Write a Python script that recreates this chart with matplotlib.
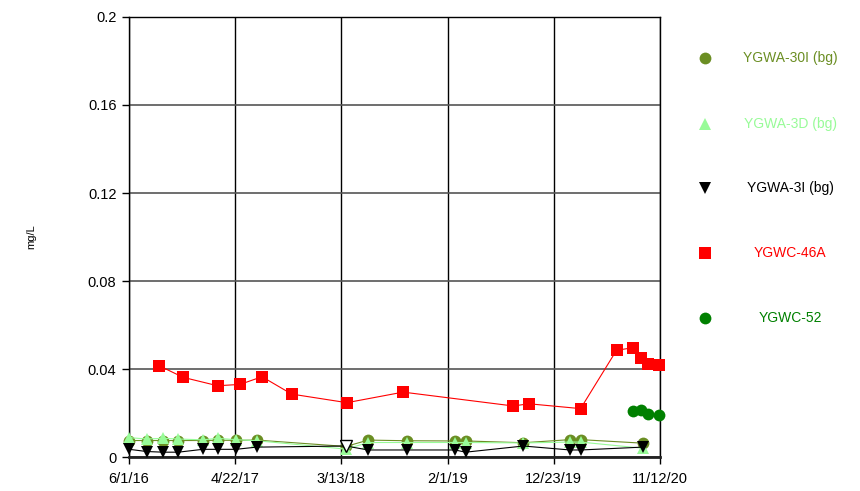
import matplotlib
matplotlib.use("Agg")
import matplotlib.pyplot as plt
import pandas as pd
from matplotlib.lines import Line2D

plt.rcParams['font.family'] = ['Liberation Sans', 'DejaVu Sans']

# sampling dates shared by the three background wells
bg_dates = [
    "2016-06-02", "2016-07-25", "2016-09-14", "2016-10-30", "2017-01-13",
    "2017-02-27", "2017-04-24", "2017-06-27", "2018-03-27", "2018-06-03",
    "2018-09-29", "2019-02-24", "2019-03-28", "2019-09-21", "2020-02-11",
    "2020-03-14", "2020-09-20",
]
ygwa_30i = [0.0075, 0.0075, 0.0075, 0.0075, 0.0075, 0.0076, 0.0076, 0.0077, 0.0048,
            0.0077, 0.0074, 0.0073, 0.0073, 0.0065, 0.0079, 0.0079, 0.0063]
ygwa_3d = [0.0088, 0.0082, 0.0085, 0.0082, 0.0078, 0.0085, 0.0079, 0.0074, 0.0036,
           0.0066, 0.0066, 0.0066, 0.0066, 0.0064, 0.0068, 0.0068, 0.0040]
ygwa_3i = [0.0035, 0.0025, 0.0022, 0.0022, 0.0035, 0.0035, 0.0035, 0.0045, 0.0050,
           0.0032, 0.0032, 0.0032, 0.0022, 0.0050, 0.0032, 0.0032, 0.0045]
ygwa_3i_hollow = ["2018-03-27"]

ygwc_46a_dates = [
    "2016-09-01", "2016-11-14", "2017-02-27", "2017-05-07", "2017-07-13",
    "2017-10-12", "2018-03-30", "2018-09-18", "2019-08-21", "2019-10-08",
    "2020-03-14", "2020-07-02", "2020-08-22", "2020-09-16", "2020-10-05",
    "2020-11-10",
]
ygwc_46a = [0.0415, 0.0362, 0.0324, 0.0330, 0.0365, 0.0286, 0.0247, 0.0295, 0.0232,
            0.0242, 0.0220, 0.0485, 0.0497, 0.0449, 0.0421, 0.0418]

ygwc_52_dates = ["2020-08-22", "2020-09-16", "2020-10-05", "2020-11-10"]
ygwc_52 = [0.0209, 0.0212, 0.0194, 0.0191]

x_ticks = ["6/1/16", "4/22/17", "3/13/18", "2/1/19", "12/23/19", "11/12/20"]
y_ticks = [0, 0.04, 0.08, 0.12, 0.16, 0.2]
y_tick_labels = ["0", "0.04", "0.08", "0.12", "0.16", "0.2"]

series = [
    ("YGWA-30I (bg)", bg_dates, ygwa_30i, "o", "#6b8e23"),
    ("YGWA-3D (bg)", bg_dates, ygwa_3d, "^", "#98fb98"),
    ("YGWA-3I (bg)", bg_dates, ygwa_3i, "v", "black"),
    ("YGWC-46A", ygwc_46a_dates, ygwc_46a, "s", "red"),
    ("YGWC-52", ygwc_52_dates, ygwc_52, "o", "#008000"),
]


def plot_chart():
    fig = plt.figure(figsize=(8.6, 4.91), dpi=100)
    ax = fig.add_axes([0.15, 0.0692, 0.6174, 0.8962])

    for name, dates, values, marker, color in series:
        ax.plot(pd.to_datetime(dates), values, color=color, lw=0.8,
                marker=marker, markersize=8.5, markeredgewidth=0,
                zorder=3, clip_on=False)

    hollow = [ygwa_3i[bg_dates.index(d)] for d in ygwa_3i_hollow]
    ax.plot(pd.to_datetime(ygwa_3i_hollow), hollow, linestyle="none", marker="v",
            markersize=9, markerfacecolor="white", markeredgecolor="black",
            markeredgewidth=1, zorder=4)

    tick_dates = pd.to_datetime(x_ticks, format="%m/%d/%y")
    ax.set_xlim(tick_dates[0], tick_dates[-1])
    ax.set_xticks(tick_dates)
    ax.set_xticklabels(x_ticks, fontsize=10.5)
    ax.set_ylim(0, 0.2)
    ax.set_yticks(y_ticks)
    ax.set_yticklabels(y_tick_labels, fontsize=10.5)
    ax.set_ylabel("mg/L", fontsize=8, labelpad=37)

    ax.grid(axis="x", color="black", lw=1)
    ax.grid(axis="y", color="#555555", lw=1.2)
    ax.set_axisbelow(True)

    ax.tick_params(axis="x", direction="out", length=5, width=1, pad=6)
    ax.tick_params(axis="y", direction="out", length=5, width=1, pad=4)
    for side in ["top", "right", "left"]:
        ax.spines[side].set_linewidth(1)
        ax.spines[side].set_color("black")
    ax.spines["bottom"].set_linewidth(2)
    ax.spines["bottom"].set_color("#222222")

    # legend drawn by hand: marker on the left, coloured label centred on the right
    legend_y = [0.882, 0.748, 0.617, 0.485, 0.352]
    for (name, dates, values, marker, color), y in zip(series, legend_y):
        fig.add_artist(Line2D([0.82], [y], marker=marker, markersize=8.5,
                              color=color, markeredgewidth=0, linestyle="none",
                              transform=fig.transFigure))
        fig.text(0.919, y, name, color=color, fontsize=10, ha="center", va="center")

    fig.savefig("out.png", dpi=100)


if __name__ == "__main__":
    plot_chart()
